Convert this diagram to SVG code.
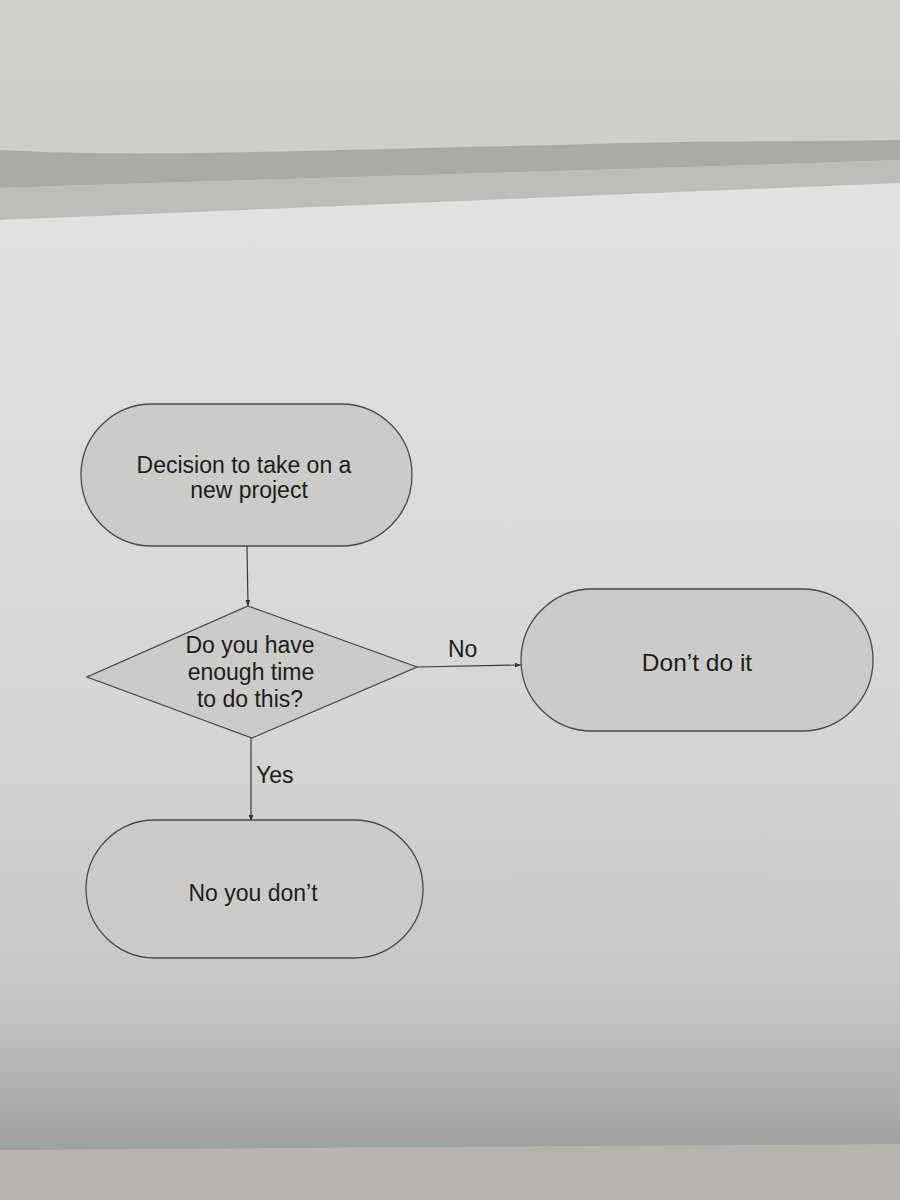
<svg xmlns="http://www.w3.org/2000/svg" width="900" height="1200" viewBox="0 0 900 1200">
<defs>
<linearGradient id="paper" x1="0" y1="0" x2="0" y2="1">
<stop offset="0" stop-color="#e2e2e0"/>
<stop offset="0.55" stop-color="#d6d7d5"/>
<stop offset="0.85" stop-color="#c4c5c4"/>
<stop offset="1" stop-color="#9fa0a0"/>
</linearGradient>
<linearGradient id="wall" x1="0" y1="0" x2="0" y2="1">
<stop offset="0" stop-color="#cfcfcb"/>
<stop offset="1" stop-color="#c6c6c2"/>
</linearGradient>
<marker id="arr" viewBox="0 0 10 10" refX="10" refY="5" markerWidth="6" markerHeight="6" orient="auto" markerUnits="userSpaceOnUse">
<path d="M0,1 L10,5 L0,9 Z" fill="#333"/>
</marker>
<style>
.node { fill: #cbccc9; stroke: #4a4a4a; stroke-width: 1.3; }
.lbl { font-family: "Liberation Sans", Arial, sans-serif; font-size: 23px; fill: #1c1c1c; text-anchor: middle; }
.edge { fill: none; stroke: #3a3a3a; stroke-width: 1.2; marker-end: url(#arr); }
.elbl { font-family: "Liberation Sans", Arial, sans-serif; font-size: 23px; fill: #1c1c1c; }
</style>
</defs>
<!-- scene background -->
<rect x="0" y="0" width="900" height="1200" fill="url(#wall)"/>
<path d="M0,150 C150,158 300,150 560,145 C700,140 800,142 900,140 L900,160 C700,168 400,175 0,188 Z" fill="#a3a4a1" opacity="0.85"/>
<path d="M0,188 C300,178 600,170 900,160 L900,185 L0,220 Z" fill="#bdbdb9"/>
<rect x="0" y="1140" width="900" height="60" fill="#b6b4ad"/>
<path d="M0,220 L900,183 L900,1144 L0,1150 Z" fill="url(#paper)"/>

<g id="connectors">
<line class="edge" x1="247" y1="546" x2="248" y2="606"/>
<line class="edge" x1="417" y1="667" x2="521" y2="665"/>
<text class="elbl" x="448" y="657">No</text>
<line class="edge" x1="251" y1="738" x2="251" y2="821"/>
<text class="elbl" x="256" y="783">Yes</text>
</g>

<g id="start">
<rect class="node" x="81" y="404" width="331" height="142" rx="71" ry="71"/>
<text class="lbl" x="244" y="473">Decision to take on a</text>
<text class="lbl" x="249" y="498">new project</text>
</g>

<g id="decision">
<polygon class="node" points="248,606 417,667 252,738 87,677"/>
<text class="lbl" x="250" y="653">Do you have</text>
<text class="lbl" x="251" y="680">enough time</text>
<text class="lbl" x="250" y="707">to do this?</text>
</g>

<g id="dont">
<rect class="node" x="521" y="589" width="352" height="142" rx="71" ry="71"/>
<text class="lbl" x="697" y="671" style="font-size:24.5px">Don’t do it</text>
</g>

<g id="noyoudont">
<rect class="node" x="86" y="820" width="337" height="138" rx="69" ry="69"/>
<text class="lbl" x="253" y="901">No you don’t</text>
</g>
</svg>
